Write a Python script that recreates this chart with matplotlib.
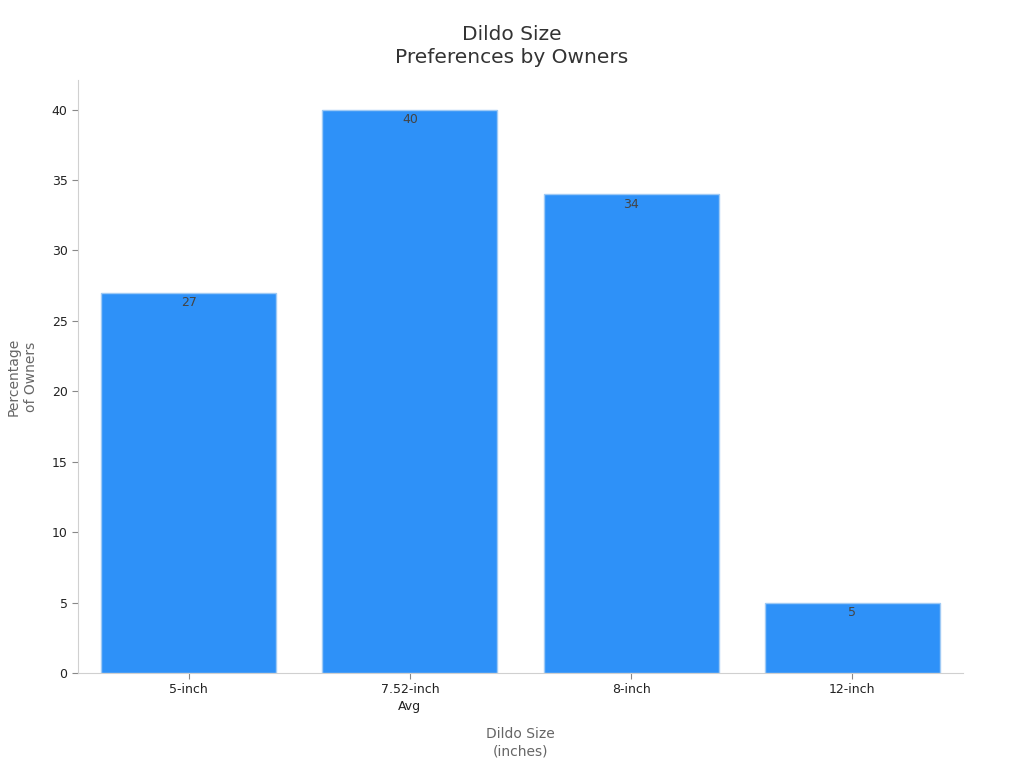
import matplotlib
matplotlib.use("Agg")
from matplotlib import pyplot as plt

sizes = ["5-inch", "7.52-inch\nAvg", "8-inch", "12-inch"]
owners_pct = [27, 40, 34, 5]

bar_color = "#2e91f8"
edge_color = "#9fcaf5"
spine_color = "#d0d0d0"

fig = plt.figure(figsize=(10.24, 7.68), dpi=100)
ax = fig.add_axes([0.0762, 0.1237, 0.8642, 0.7721])

x = list(range(len(sizes)))
bars = ax.bar(x, owners_pct, width=0.79, color=bar_color, edgecolor=edge_color, linewidth=1)

for b, v in zip(bars, owners_pct):
    ax.text(b.get_x() + b.get_width() / 2, v - 0.25, str(v),
            ha="center", va="top", fontsize=9, color="#444444")

ax.set_xlim(-0.5, 3.5)
ax.set_ylim(0, 42.1)
ax.set_yticks(range(0, 41, 5))
ax.set_xticks(x)
ax.set_xticklabels(sizes, fontsize=9, color="#222222", linespacing=1.4)
ax.tick_params(axis="y", labelsize=9, colors="#222222")
ax.tick_params(axis="both", color="#888888", length=4)

for side in ("top", "right"):
    ax.spines[side].set_visible(False)
for side in ("left", "bottom"):
    ax.spines[side].set_color(spine_color)

ax.set_xlabel("Dildo Size\n(inches)", fontsize=10, color="#666666", labelpad=10,
              linespacing=1.3)
ax.set_ylabel("Percentage\nof Owners", fontsize=10, color="#666666", labelpad=10,
              linespacing=1.3)
ax.set_title("Dildo Size\nPreferences by Owners", fontsize=14.5, color="#333333", pad=12,
             linespacing=1.3, x=0.4904)

fig.savefig("out.png", dpi=100)
